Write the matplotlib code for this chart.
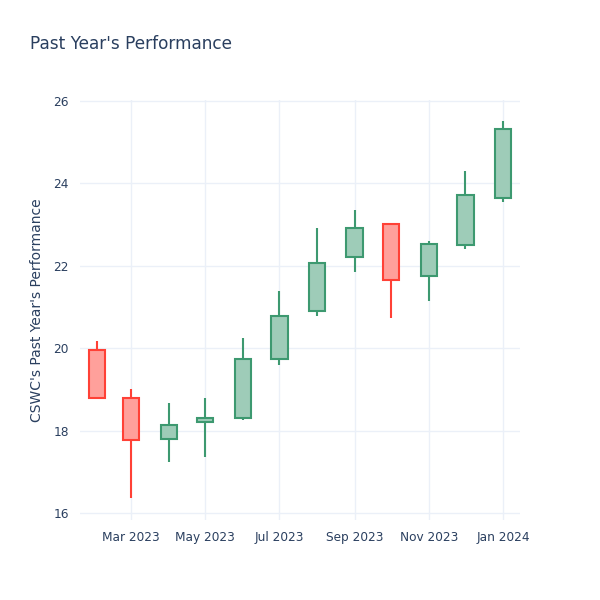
import matplotlib
matplotlib.use("Agg")
import matplotlib.pyplot as plt
import matplotlib.dates as mdates
import pandas as pd

# monthly OHLC
months = ["2023-02-01", "2023-03-01", "2023-04-01", "2023-05-01", "2023-06-01", "2023-07-01",
          "2023-08-01", "2023-09-01", "2023-10-01", "2023-11-01", "2023-12-01", "2024-01-01"]
opens = [19.95, 18.80, 17.80, 18.20, 18.31, 19.74, 20.89, 22.22, 23.00, 21.76, 22.50, 23.64]
highs = [20.18, 19.01, 18.67, 18.79, 20.25, 21.39, 22.92, 23.35, 23.00, 22.61, 24.30, 25.51]
lows = [18.77, 16.36, 17.24, 17.36, 18.26, 19.59, 20.78, 21.85, 20.73, 21.15, 22.41, 23.54]
closes = [18.80, 17.77, 18.13, 18.31, 19.74, 20.79, 22.07, 22.92, 21.65, 22.53, 23.71, 25.31]

dates = pd.to_datetime(months)
x = mdates.date2num(dates)

up_line, up_fill = "#3D9970", "#9ECCB8"
dn_line, dn_fill = "#FF4136", "#FFA09B"
txt = "#2a3f5f"
grid = "#EBF0F8"

fig = plt.figure(figsize=(6, 6), dpi=100)
ax = fig.add_axes([80/600, 80/600, 440/600, 420/600])

for i in range(len(x)):
    up = closes[i] >= opens[i]
    lc = up_line if up else dn_line
    fc = up_fill if up else dn_fill
    ax.vlines(x[i], lows[i], highs[i], color=lc, linewidth=1.5, zorder=2)
    lo = min(opens[i], closes[i])
    hi = max(opens[i], closes[i])
    ax.bar(x[i], hi - lo, bottom=lo, width=13.5, color=fc, edgecolor=lc,
           linewidth=1.5, zorder=3)

ax.set_ylim(15.83, 26.02)
ax.set_xlim(mdates.date2num(pd.Timestamp("2023-01-18")), mdates.date2num(pd.Timestamp("2024-01-15")))
ax.set_yticks([16, 18, 20, 22, 24, 26])
ticks = pd.to_datetime(["2023-03-01", "2023-05-01", "2023-07-01", "2023-09-01", "2023-11-01", "2024-01-01"])
ax.set_xticks(mdates.date2num(ticks))
ax.set_xticklabels([d.strftime("%b %Y") for d in ticks])

ax.grid(True, color=grid, linewidth=1, zorder=0)
ax.set_axisbelow(True)
for s in ax.spines.values():
    s.set_visible(False)
ax.tick_params(length=0, labelsize=8.7, labelcolor=txt, pad=8)

ax.set_ylabel("CSWC's Past Year's Performance", fontsize=10, color=txt, labelpad=7)
fig.text(30/600, 1 - 44/600, "Past Year's Performance", fontsize=12.2, color=txt, va="center")

fig.savefig("out.png", dpi=100, facecolor="white")
